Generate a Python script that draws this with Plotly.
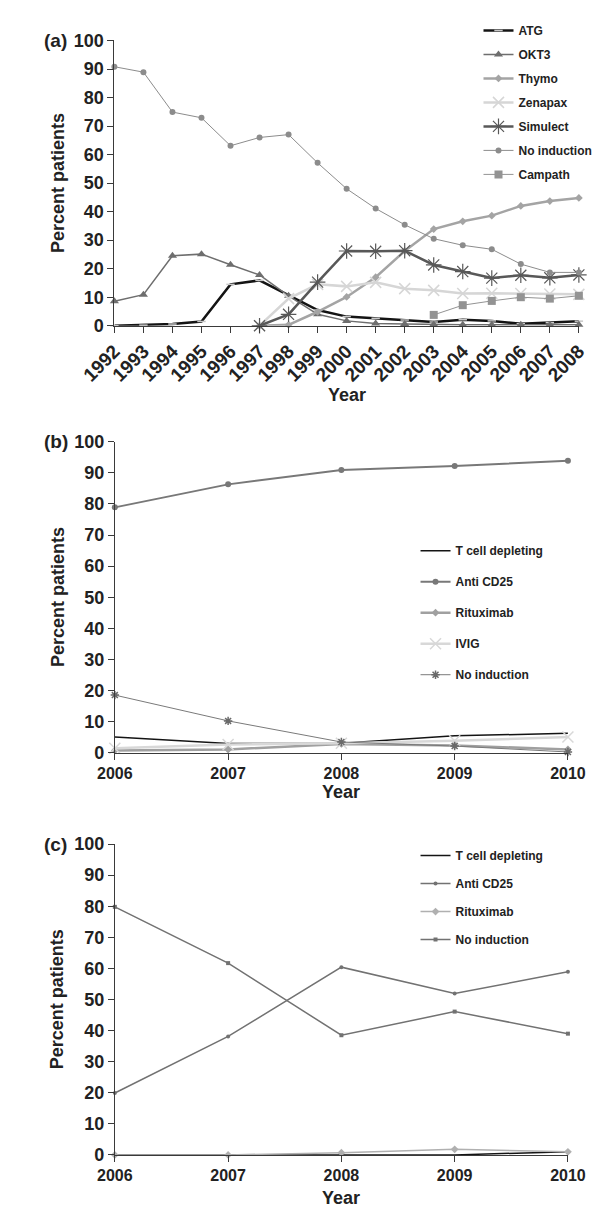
import plotly.graph_objects as go

W, H = 606, 1218

# ---------------- data ----------------
years_a = [1992, 1993, 1994, 1995, 1996, 1997, 1998, 1999, 2000, 2001, 2002, 2003, 2004, 2005, 2006, 2007, 2008]
atg = [0.0, 0.2, 0.6, 1.5, 14.5, 15.9, 10.8, 5.5, 3.2, 2.6, 2.0, 1.3, 2.1, 1.7, 0.7, 1.1, 1.6]
okt3 = [8.6, 10.9, 24.5, 25.1, 21.4, 17.8, 10.5, 4.0, 1.7, 0.8, 0.6, 0.4, 0.3, 0.3, 0.3, 0.3, 0.3]
thymo = [None, None, None, None, None, 0.0, 0.3, 4.9, 10.1, 17.0, 26.2, 33.9, 36.6, 38.6, 42.0, 43.7, 44.8]
zenapax = [None, None, None, None, None, 0.0, 9.5, 14.5, 13.8, 15.2, 13.0, 12.4, 11.3, 11.4, 11.3, 11.1, 11.0]
simulect = [None, None, None, None, None, 0.0, 4.0, 15.3, 26.2, 26.1, 26.3, 21.3, 19.0, 16.7, 17.7, 16.8, 17.8]
noind_a = [90.8, 88.9, 74.9, 72.9, 63.1, 66.0, 67.0, 57.1, 48.0, 41.1, 35.4, 30.5, 28.2, 26.8, 21.6, 18.7, 18.7]
campath = [None, None, None, None, None, None, None, None, None, None, None, 3.8, 7.2, 8.7, 10.0, 9.5, 10.5]

years_bc = [2006, 2007, 2008, 2009, 2010]
tcell_b = [5.0, 2.9, 3.0, 5.4, 6.2]
cd25_b = [78.9, 86.3, 90.9, 92.2, 93.9]
ritux_b = [0.7, 1.0, 2.8, 2.3, 1.0]
ivig_b = [1.4, 2.6, 3.0, 3.8, 5.0]
noind_b = [18.5, 10.2, 3.4, 2.1, 0.2]

tcell_c = [0.0, 0.0, 0.0, 0.0, 1.0]
cd25_c = [19.9, 38.1, 60.4, 51.9, 58.9]
ritux_c = [0.0, 0.0, 0.7, 1.8, 1.0]
noind_c = [79.8, 61.7, 38.5, 46.1, 39.0]

y_ticks = [0, 10, 20, 30, 40, 50, 60, 70, 80, 90, 100]

FONT = "Liberation Sans, Arial, sans-serif"
AX = "#3a3a3a"

fig = go.Figure()


def add(x, y, name, xa, ya, legend, color, width, symbol=None, msize=6, mline=None, mcolor=None):
    kw = {}
    if symbol is None:
        mode = "lines"
    else:
        mode = "lines+markers"
        marker = dict(symbol=symbol, size=msize, color=mcolor or color)
        if mline:
            marker["line"] = dict(color=mline[0], width=mline[1])
        else:
            marker["line"] = dict(width=0)
        kw["marker"] = marker
    fig.add_trace(go.Scatter(
        x=x, y=y, name=name, mode=mode, xaxis=xa, yaxis=ya,
        legend=legend, legendgroup=legend + name,
        line=dict(color=color, width=width), cliponaxis=False,
        connectgaps=False, **kw))


# panel a
add(years_a, atg, "ATG", "x", "y", "legend", "#141414", 2.5, "line-ew", 6, ("#c8c8c8", 1.5))
add(years_a, okt3, "OKT3", "x", "y", "legend", "#6e6e6e", 1.5, "triangle-up", 8)
add(years_a, thymo, "Thymo", "x", "y", "legend", "#a4a4a4", 2.5, "diamond", 6)
add(years_a, zenapax, "Zenapax", "x", "y", "legend", "#d6d6d6", 2.5, "x-thin", 11, ("#d6d6d6", 1.5))
add(years_a, simulect, "Simulect", "x", "y", "legend", "#585858", 2.5, "asterisk", 13, ("#585858", 1.2))
add(years_a, noind_a, "No induction", "x", "y", "legend", "#8c8c8c", 1, "circle", 6)
add(years_a, campath, "Campath", "x", "y", "legend", "#939393", 1, "square", 8)

# panel b
add(years_bc, tcell_b, "T cell depleting", "x2", "y2", "legend2", "#141414", 1.5)
add(years_bc, cd25_b, "Anti CD25", "x2", "y2", "legend2", "#787878", 2, "circle", 6)
add(years_bc, ritux_b, "Rituximab", "x2", "y2", "legend2", "#a0a0a0", 2.5, "diamond", 6)
add(years_bc, ivig_b, "IVIG", "x2", "y2", "legend2", "#d8d8d8", 2.5, "x-thin", 11, ("#d8d8d8", 1.5))
add(years_bc, noind_b, "No induction", "x2", "y2", "legend2", "#7a7a7a", 1, "asterisk", 7, ("#6a6a6a", 1.5))

# panel c
add(years_bc, tcell_c, "T cell depleting", "x3", "y3", "legend3", "#141414", 1.5)
add(years_bc, cd25_c, "Anti CD25", "x3", "y3", "legend3", "#727272", 1.5, "circle", 4)
add(years_bc, ritux_c, "Rituximab", "x3", "y3", "legend3", "#b0b0b0", 1.5, "diamond", 6)
add(years_bc, noind_c, "No induction", "x3", "y3", "legend3", "#727272", 1.5, "square", 4)


def px_x(v):
    return v / W


def px_y(v):
    return 1 - v / H


tickfont = dict(family=FONT, size=18, color="#222", weight="bold")
xtickfont_a = dict(family=FONT, size=19, color="#222", weight="bold")
xtickfont = dict(family=FONT, size=16, color="#222", weight="bold")

common_y = dict(range=[0, 100], tickvals=y_ticks, ticks="outside", ticklen=6, tickcolor=AX,
                showline=True, linecolor=AX, linewidth=1, showgrid=False, zeroline=False,
                tickfont=tickfont, fixedrange=True)
common_x = dict(ticks="outside", ticklen=6, tickcolor=AX, showline=True, linecolor=AX,
                linewidth=1, showgrid=False, zeroline=False, fixedrange=True)

fig.update_layout(
    width=W, height=H, margin=dict(l=0, r=0, t=0, b=0),
    paper_bgcolor="white", plot_bgcolor="white",
    font=dict(family=FONT, color="#222"),
    xaxis=dict(domain=[px_x(87), px_x(596)], range=[1992, 2008], tickvals=years_a,
               tickangle=-45, anchor="y", tickfont=xtickfont_a, **common_x),
    yaxis=dict(domain=[px_y(321), px_y(31)], anchor="x", **common_y),
    xaxis2=dict(domain=[px_x(87.5), px_x(584)], range=[2006, 2010], tickvals=years_bc,
                anchor="y2", tickfont=xtickfont, **common_x),
    yaxis2=dict(domain=[px_y(755), px_y(439)], anchor="x2", **common_y),
    xaxis3=dict(domain=[px_x(87.5), px_x(584)], range=[2006, 2010], tickvals=years_bc,
                anchor="y3", tickfont=xtickfont, **common_x),
    yaxis3=dict(domain=[px_y(1164), px_y(848)], anchor="x3", **common_y),
    showlegend=True,
)

legfont = dict(family=FONT, size=12, color="#222", weight="bold")
fig.update_layout(
    legend=dict(x=px_x(486), y=px_y(6), xanchor="left", yanchor="top", font=legfont,
                bgcolor="rgba(0,0,0,0)", itemwidth=30, traceorder="grouped", tracegroupgap=5),
    legend2=dict(x=px_x(417), y=px_y(535), xanchor="left", yanchor="top", font=legfont,
                 bgcolor="rgba(0,0,0,0)", itemwidth=30, traceorder="grouped", tracegroupgap=12),
    legend3=dict(x=px_x(417), y=px_y(845), xanchor="left", yanchor="top", font=legfont,
                 bgcolor="rgba(0,0,0,0)", itemwidth=30, traceorder="grouped", tracegroupgap=9),
)

annots = []
labfont = dict(family=FONT, size=19, color="#222", weight="bold")
titlefont = dict(family=FONT, size=18, color="#222", weight="bold")
for lab, ytop in [("(a)", 31), ("(b)", 439), ("(c)", 848)]:
    annots.append(dict(text=lab, x=px_x(8), y=px_y(ytop), xref="paper", yref="paper",
                       xanchor="left", yanchor="middle", showarrow=False, font=labfont))
for ymid in [(31 + 321) / 2, (439 + 755) / 2, (848 + 1164) / 2]:
    annots.append(dict(text="Percent patients", x=px_x(25), y=px_y(ymid), xref="paper", yref="paper",
                       xanchor="center", yanchor="middle", textangle=-90, showarrow=False, font=titlefont))
for xmid, ymid in [((87 + 596) / 2, 391), ((87.5 + 584) / 2, 795), ((87.5 + 584) / 2, 1208)]:
    annots.append(dict(text="Year", x=px_x(xmid), y=px_y(ymid), xref="paper", yref="paper",
                       xanchor="center", yanchor="middle", showarrow=False, font=titlefont))
fig.update_layout(annotations=annots)

fig.write_html("out.html", config={"displayModeBar": False, "staticPlot": True},
               post_script="document.body.style.margin='0px';")
